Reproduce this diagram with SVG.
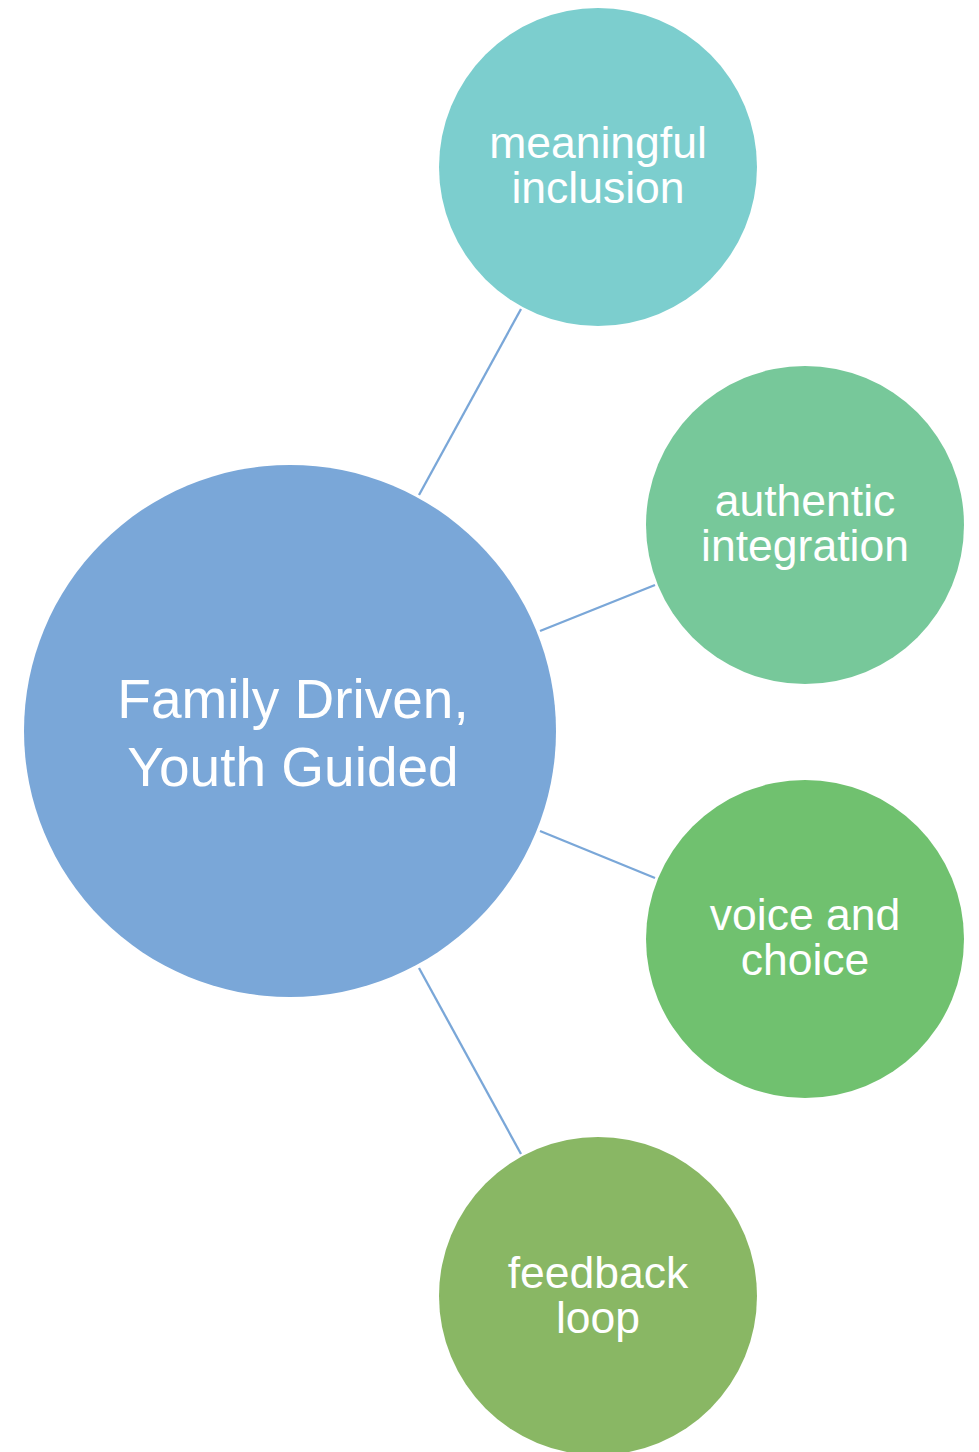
<svg xmlns="http://www.w3.org/2000/svg" width="979" height="1452" viewBox="0 0 979 1452">
  <style>
    .link { stroke: #7aa7d8; stroke-width: 2.3; fill: none; }
    .label { font-family: "Liberation Sans", Arial, sans-serif; fill: #ffffff; text-anchor: middle; }
    .hub { font-size: 55px; }
    .leaf { font-size: 44.5px; }
  </style>
  <rect width="979" height="1452" fill="#ffffff"/>

  <!-- spokes from the hub to each satellite -->
  <g id="connectors">
    <line class="link" x1="419" y1="495" x2="521" y2="309"/>
    <line class="link" x1="540" y1="631" x2="655" y2="585"/>
    <line class="link" x1="540" y1="831" x2="655" y2="878"/>
    <line class="link" x1="419" y1="968" x2="521" y2="1154"/>
  </g>

  <g id="hub">
    <circle cx="290" cy="731" r="266" fill="#7aa7d8"/>
    <text class="label hub" x="293" y="718">Family Driven,</text>
    <text class="label hub" x="293" y="786">Youth Guided</text>
  </g>

  <g id="meaningful-inclusion">
    <circle cx="598" cy="167" r="159" fill="#7ccece"/>
    <text class="label leaf" x="598" y="158">meaningful</text>
    <text class="label leaf" x="598" y="203">inclusion</text>
  </g>

  <g id="authentic-integration">
    <circle cx="805" cy="525" r="159" fill="#77c89a"/>
    <text class="label leaf" x="805" y="516">authentic</text>
    <text class="label leaf" x="805" y="561">integration</text>
  </g>

  <g id="voice-and-choice">
    <circle cx="805" cy="939" r="159" fill="#70c16f"/>
    <text class="label leaf" x="805" y="930">voice and</text>
    <text class="label leaf" x="805" y="975">choice</text>
  </g>

  <g id="feedback-loop">
    <circle cx="598" cy="1296" r="159" fill="#89b764"/>
    <text class="label leaf" x="598" y="1288">feedback</text>
    <text class="label leaf" x="598" y="1333">loop</text>
  </g>
</svg>
